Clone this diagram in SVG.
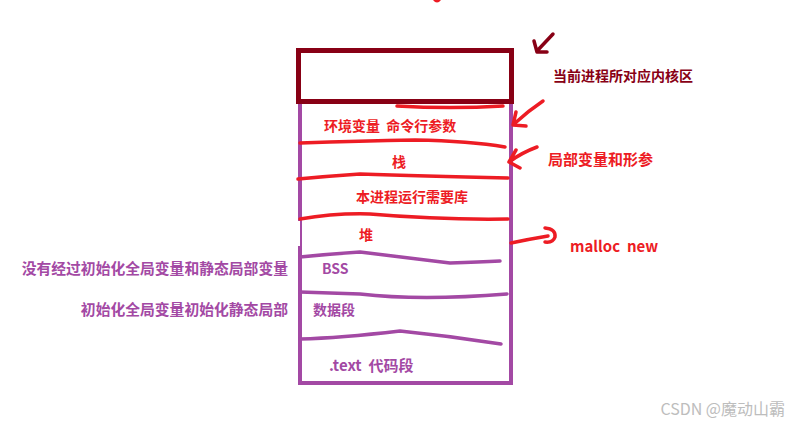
<svg xmlns="http://www.w3.org/2000/svg" width="800" height="426" viewBox="0 0 800 426">
<style>
text{font-family:"Noto Sans CJK SC","Liberation Sans",sans-serif;font-weight:bold;font-size:14px;white-space:pre}
.r{fill:#ed1c24}.p{fill:#a349a4}.d{fill:#880015}
.rl{fill:none;stroke:#ed1c24;stroke-width:3.5;stroke-linecap:round;stroke-linejoin:round}
.pl{fill:none;stroke:#a349a4;stroke-width:3.5;stroke-linecap:round;stroke-linejoin:round}
</style>
<rect width="800" height="426" fill="#fff"/>
<g id="memory-box">
<path d="M300,102 V383 H511 V50" fill="none" stroke="#a349a4" stroke-width="4"/>
<rect x="298.5" y="50.5" width="213" height="51" fill="#fff" stroke="#880015" stroke-width="5"/>
<line x1="298" y1="221" x2="298" y2="246" stroke="#fff" stroke-width="4"/>
<line x1="508" y1="181" x2="508" y2="218" stroke="#fff" stroke-width="2"/>
</g>
<g id="connectors">
<path class="rl" d="M397,106 Q450,109 503,106"/>
<path class="rl" d="M300,143 Q360,141 415,140 Q470,141 505,147"/>
<path class="rl" d="M298,179 Q330,176 360,174 Q420,176 508,178"/>
<path class="rl" d="M300,219 Q335,213 370,214 Q440,220 508,219"/>
<path class="pl" d="M300,257 Q330,254 360,252 Q410,258 450,263 Q480,262 500,261"/>
<path class="pl" d="M300,292 Q330,293 360,294 Q420,301 507,294"/>
<path class="pl" d="M300,339 Q340,338 400,331 Q450,336 501,344"/>
<path d="M553,34 L537,51 M534,41 L537,52 L547,52" fill="none" stroke="#880015" stroke-width="3.5" stroke-linecap="round" stroke-linejoin="round"/>
<path class="rl" d="M543,101 Q528,111 514,124 M516,112 L513,125 L526,126"/>
<path class="rl" d="M537,147 Q521,153 509,162 M516,150 L509,162 L520,168"/>
<path class="rl" d="M511,243 Q530,239 548,236 M545,228 Q556,229 555,237 Q553,243 545,242"/>
<path d="M433,0 Q437,5 441,0 Z" fill="#ed1c24"/>
</g>
<g id="kernel-label"><text class="d" x="553" y="81">当前进程所对应内核区</text></g>
<g id="env"><text class="r" x="324" y="131">环境变量  命令行参数</text></g>
<g id="stack"><text class="r" x="392" y="167">栈</text></g>
<g id="lib"><text class="r" x="356" y="202">本进程运行需要库</text></g>
<g id="heap"><text class="r" x="359" y="240">堆</text></g>
<g id="bss"><text class="p" x="322" y="274">BSS</text></g>
<g id="data"><text class="p" x="313" y="315">数据段</text></g>
<g id="text-seg"><text class="p" x="329" y="371" style="font-size:15px">.text  代码段</text></g>
<g id="bss-label"><text class="p" x="288" y="274" text-anchor="end" style="font-size:14.8px">没有经过初始化全局变量和静态局部变量</text></g>
<g id="data-label"><text class="p" x="288" y="315" text-anchor="end" style="font-size:14.8px">初始化全局变量初始化静态局部</text></g>
<g id="stack-label"><text class="r" x="548" y="165" style="font-size:15px">局部变量和形参</text></g>
<g id="heap-label"><text class="r" x="570" y="252" style="font-size:15px">malloc  new</text></g>
<g id="watermark"><text x="785" y="415" text-anchor="end" style="font-weight:normal;font-size:16px;fill:#bdbdbd">CSDN @魔动山霸</text></g>
</svg>
